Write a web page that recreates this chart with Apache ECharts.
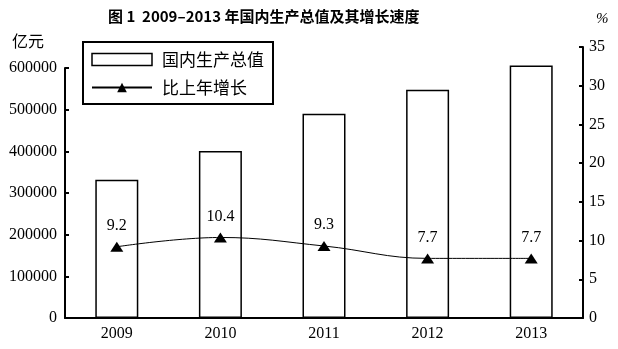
<!DOCTYPE html>
<html>
<head>
<meta charset="utf-8">
<script src="https://cdn.jsdelivr.net/npm/echarts@6/dist/echarts.min.js"></script>
<style>
  html, body { margin: 0; padding: 0; background: #fff; }
  #chart { width: 618px; height: 349px; }
</style>
</head>
<body>
<div id="chart"></div>
<script>
// Years on the category axis
const years = ['2009', '2010', '2011', '2012', '2013'];
// Gross domestic product, 100 million yuan
const gdpValues = [332000, 401000, 490000, 548000, 606000];
// Growth over previous year, %
const growthValues = [9.2, 10.4, 9.3, 7.7, 7.7];
// Axis ranges and steps
const gdpAxis = { min: 0, max: 600000, interval: 100000 };
const growthAxis = { min: 0, max: 35, interval: 5 };

const serif = '"Liberation Serif", "Times New Roman", serif';
const cjk = '"Noto Sans CJK SC", sans-serif';

const chart = echarts.init(document.getElementById('chart'), null, { renderer: 'canvas' });

chart.setOption({
  animation: false,
  backgroundColor: '#ffffff',
  title: {
    text: '图 1  2009–2013 年国内生产总值及其增长速度',
    left: 103,
    top: 4,
    textStyle: { fontFamily: cjk, fontSize: 15, fontWeight: 'bold', color: '#000' }
  },
  legend: {
    orient: 'vertical',
    left: 83,
    top: 42,
    padding: [9, 9, 8, 8],
    itemGap: 11,
    itemWidth: 60,
    itemHeight: 12,
    borderColor: '#000',
    borderWidth: 2,
    textStyle: { fontFamily: cjk, fontSize: 17, color: '#000', padding: [0, 0, 0, 5] },
    data: [
      { name: '国内生产总值', icon: 'rect', itemStyle: { color: '#fff', borderColor: '#000', borderWidth: 1.5 } },
      { name: '比上年增长' }
    ]
  },
  grid: [
    { left: 65, right: 35, top: 68, bottom: 31 },
    { left: 65, right: 35, top: 47, bottom: 31 }
  ],
  graphic: [
    { type: 'text', left: 12, top: 33, style: { text: '亿元', fontFamily: cjk, fontSize: 16, fill: '#000' } },
    { type: 'text', left: 596, top: 12, style: { text: '%', fontFamily: serif, fontStyle: 'italic', fontSize: 15, fill: '#000' } }
  ],
  xAxis: [
    {
      type: 'category',
      gridIndex: 0,
      data: years,
      axisLine: { lineStyle: { color: '#000', width: 2 } },
      axisTick: { inside: true, length: 5, lineStyle: { color: '#000', width: 2 } },
      axisLabel: { fontFamily: serif, fontSize: 16, color: '#000', margin: 8 }
    },
    {
      type: 'category',
      gridIndex: 1,
      data: years,
      show: false
    }
  ],
  yAxis: [
    {
      type: 'value',
      gridIndex: 0,
      min: gdpAxis.min,
      max: gdpAxis.max,
      interval: gdpAxis.interval,
      splitLine: { show: false },
      axisLine: { show: true, lineStyle: { color: '#000', width: 2 } },
      axisTick: { show: true, inside: true, length: 4, lineStyle: { color: '#000', width: 2 } },
      axisLabel: { fontFamily: serif, fontSize: 16, color: '#000', margin: 8, formatter: v => String(v) }
    },
    {
      type: 'value',
      gridIndex: 1,
      position: 'right',
      min: growthAxis.min,
      max: growthAxis.max,
      interval: growthAxis.interval,
      splitLine: { show: false },
      axisLine: { show: true, lineStyle: { color: '#000', width: 2 } },
      axisTick: { show: true, inside: true, length: 4, lineStyle: { color: '#000', width: 2 } },
      axisLabel: { fontFamily: serif, fontSize: 16, color: '#000', margin: 6 }
    }
  ],
  series: [
    {
      name: '国内生产总值',
      type: 'bar',
      xAxisIndex: 0,
      yAxisIndex: 0,
      data: gdpValues,
      barWidth: 43,
      clip: false,
      itemStyle: { color: '#fff', borderColor: '#000', borderWidth: 1.5 }
    },
    {
      name: '比上年增长',
      type: 'line',
      xAxisIndex: 1,
      yAxisIndex: 1,
      data: growthValues,
      smooth: 0.4,
      symbol: 'triangle',
      symbolSize: [13, 10],
      itemStyle: { color: '#000' },
      lineStyle: { color: '#000', width: 1 },
      label: {
        show: true,
        position: 'top',
        distance: 8,
        fontFamily: serif,
        fontSize: 16,
        color: '#000',
        formatter: p => p.value.toFixed(1)
      },
      z: 5
    }
  ]
});
</script>
</body>
</html>
